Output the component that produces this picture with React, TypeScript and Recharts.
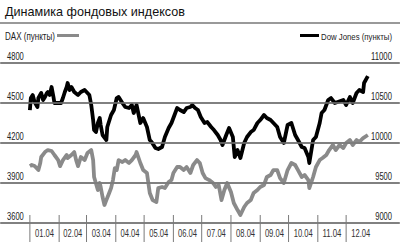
import React from 'react';
import { LineChart, Line, XAxis, YAxis, CartesianGrid } from 'recharts';

// 2004, day of year (0 = 1 Jan)
const monthLabels = ['01.04', '02.04', '03.04', '04.04', '05.04', '06.04', '07.04', '08.04', '09.04', '10.04', '11.04', '12.04'];
const monthStarts = [0, 31, 60, 91, 121, 152, 182, 213, 244, 274, 305, 335];
const yearEnd = 366;

const daxTicks = [3600, 3900, 4200, 4500, 4800];
const dowTicks = [9000, 9500, 10000, 10500, 11000];

const daxDays = [
  0, 2, 5, 9, 11, 12, 16, 19, 23, 26, 30, 32, 35, 39, 40, 44, 47, 49, 51, 54, 58, 61, 65, 67, 68, 72, 74, 75, 77, 79, 81,
  84, 86, 88, 90, 92, 94, 98, 101, 105, 108, 112, 113, 117, 120, 124, 127, 130, 134, 136, 140, 143, 147, 150, 152, 156,
  159, 163, 166, 170, 173, 177, 180, 183, 186, 190, 194, 197, 200, 203, 206, 209, 213, 216, 220, 223, 227, 230, 234, 237,
  241, 244, 248, 251, 255, 258, 262, 265, 269, 273, 277, 281, 284, 288, 291, 295, 296, 300, 303, 307, 310, 314, 317, 321,
  324, 328, 332, 335, 339, 342, 346, 349, 353, 358,
];
const daxValues = [
  4027, 4035, 4027, 3997, 4050, 4095, 4132, 4147, 4140, 4110, 4072, 4027, 4072, 4110, 4087, 4110, 4132, 4072, 4027, 4095,
  4072, 4125, 4147, 4072, 3945, 3847, 3900, 3870, 3795, 3735, 3772, 3825, 3862, 3922, 4012, 3997, 4072, 4057, 4072, 4050,
  4072, 4110, 4132, 4050, 3997, 3975, 3825, 3772, 3757, 3862, 3870, 3862, 3907, 3922, 3975, 4020, 4020, 3997, 4020, 3975,
  4035, 4072, 4050, 3975, 3937, 3922, 3900, 3870, 3885, 3772, 3847, 3900, 3832, 3750, 3697, 3660, 3720, 3750, 3772, 3825,
  3847, 3870, 3885, 3945, 3960, 3997, 3997, 3937, 3900, 3997, 4050, 4035, 3997, 3945, 3960, 3922, 3862, 3945, 4020, 4072,
  4087, 4110, 4147, 4185, 4147, 4185, 4162, 4200, 4222, 4185, 4222, 4207, 4237, 4260,
];

const dowDays = [
  0, 1, 3, 5, 8, 9, 12, 14, 16, 18, 19, 21, 23, 25, 26, 30, 33, 35, 37, 39, 40, 42, 44, 47, 51, 54, 58, 61, 63, 65, 67, 68,
  70, 72, 74, 75, 77, 81, 82, 86, 89, 92, 94, 98, 101, 105, 108, 110, 113, 117, 120, 124, 127, 129, 133, 136, 140, 143, 147,
  150, 154, 156, 159, 163, 166, 170, 172, 175, 178, 181, 185, 188, 192, 195, 199, 202, 204, 208, 211, 215, 217, 220, 223,
  227, 230, 234, 237, 241, 244, 248, 251, 255, 258, 262, 265, 269, 273, 277, 281, 284, 288, 291, 295, 296, 300, 303, 307,
  309, 312, 316, 319, 323, 326, 332, 335, 339, 342, 346, 349, 353, 354, 358,
];
const dowValues = [
  10412, 10562, 10600, 10512, 10450, 10562, 10625, 10537, 10575, 10625, 10637, 10600, 10700, 10575, 10500, 10500, 10500,
  10562, 10637, 10700, 10750, 10662, 10700, 10637, 10600, 10637, 10662, 10625, 10600, 10475, 10287, 10162, 10137, 10250,
  10312, 10225, 10100, 10037, 10200, 10350, 10412, 10562, 10575, 10500, 10450, 10437, 10475, 10375, 10475, 10250, 10312,
  10200, 10037, 10012, 9937, 9925, 9950, 10075, 10187, 10250, 10375, 10437, 10412, 10387, 10437, 10450, 10475, 10437, 10412,
  10325, 10250, 10262, 10200, 10162, 10100, 10037, 9975, 10100, 10187, 10075, 9825, 9912, 9812, 10000, 10075, 10137, 10162,
  10250, 10287, 10350, 10312, 10287, 10250, 10200, 10075, 10000, 10225, 10250, 10100, 10037, 9950, 9937, 9825, 9750, 10037,
  10075, 10250, 10375, 10412, 10537, 10562, 10500, 10512, 10537, 10475, 10575, 10500, 10625, 10662, 10637, 10750, 10837,
];

const daxData = daxDays.map((day, i) => ({ day, dax: daxValues[i] }));
const dowData = dowDays.map((day, i) => ({ day, dow: dowValues[i] }));

const monthMids = monthStarts.map((s, i) => (s + (monthStarts[i + 1] ?? yearEnd)) / 2);
const xTicks = [...monthStarts, ...monthMids].sort((a, b) => a - b);

// the original uses a condensed face; squeeze a regular one to the same widths
const FONT = "'Liberation Sans', Arial, sans-serif";
const GRID = '#7a7a7a';
const W = 400;
const H = 242;

const MonthTick = ({ x, y, payload }: any) => {
  if (monthStarts.includes(payload.value)) {
    return <line x1={x} x2={x} y1={y - 8} y2={y + 19} stroke={GRID} strokeWidth={1} />;
  }
  const i = monthMids.indexOf(payload.value);
  return (
    <text x={x} y={y + 14} textAnchor="middle" fontSize={10} fill="#333" textLength={19} lengthAdjust="spacingAndGlyphs" style={{ fontFamily: FONT }}>
      {monthLabels[i]}
    </text>
  );
};

const LeftTick = ({ x, y, payload }: any) => {
  const s = String(payload.value);
  return (
    <g>
      <rect x={0} y={y - 0.75} width={W} height={1.5} fill={GRID} />
      <text x={x + 6} y={y - 3} textAnchor="start" fontSize={10} fill="#222" textLength={s.length * 4.2} lengthAdjust="spacingAndGlyphs" style={{ fontFamily: FONT }}>
        {s}
      </text>
    </g>
  );
};

const RightTick = ({ x, y, payload }: any) => {
  const s = String(payload.value);
  return (
    <text x={x - 7} y={y - 3} textAnchor="end" fontSize={10} fill="#222" textLength={s.length * 4.2} lengthAdjust="spacingAndGlyphs" style={{ fontFamily: FONT }}>
      {s}
    </text>
  );
};

export default function App() {
  return (
    <div style={{ position: 'absolute', left: 0, top: 0, width: W, height: H, background: '#fff' }}>
      <LineChart width={W} height={H} margin={{ top: 63, right: 0, bottom: 0, left: 0 }}>
        <CartesianGrid vertical={false} stroke={GRID} strokeWidth={1.5} yAxisId="dax" />
        <XAxis
          dataKey="day"
          type="number"
          domain={[-30.6, 391]}
          allowDataOverflow
          ticks={xTicks}
          interval={0}
          height={19}
          axisLine={false}
          tickLine={false}
          tickSize={0}
          tickMargin={0}
          tick={<MonthTick />}
        />
        <YAxis
          yAxisId="dax"
          domain={[3600, 4800]}
          ticks={daxTicks}
          interval={0}
          width={1}
          axisLine={false}
          tickLine={false}
          tickSize={0}
          tickMargin={0}
          tick={<LeftTick />}
        />
        <YAxis
          yAxisId="dow"
          orientation="right"
          domain={[9000, 11000]}
          ticks={dowTicks}
          interval={0}
          width={1}
          axisLine={false}
          tickLine={false}
          tickSize={0}
          tickMargin={0}
          tick={<RightTick />}
        />
        <Line
          yAxisId="dax"
          data={daxData}
          dataKey="dax"
          stroke="#8a8a8a"
          strokeWidth={3.8}
          dot={false}
          strokeLinejoin="round"
          isAnimationActive={false}
        />
        <Line
          yAxisId="dow"
          data={dowData}
          dataKey="dow"
          stroke="#000"
          strokeWidth={3.8}
          dot={false}
          strokeLinejoin="round"
          isAnimationActive={false}
        />
      </LineChart>
      <svg width={W} height={60} style={{ position: 'absolute', left: 0, top: 0, pointerEvents: 'none' }}>
        <text x={5} y={16} fontSize={13.5} fill="#111" textLength={180} lengthAdjust="spacingAndGlyphs" style={{ fontFamily: FONT }}>
          Динамика фондовых индексов
        </text>
        <line x1={0} x2={W} y1={23} y2={23} stroke="#777" strokeWidth={1.5} />
        <text x={5} y={40} fontSize={10} fill="#222" textLength={50} lengthAdjust="spacingAndGlyphs" style={{ fontFamily: FONT }}>
          DAX (пункты)
        </text>
        <line x1={57} x2={79} y1={35.5} y2={35.5} stroke="#8a8a8a" strokeWidth={3} />
        <line x1={300} x2={319} y1={35.5} y2={35.5} stroke="#000" strokeWidth={3} />
        <text x={321} y={40} fontSize={9.5} fill="#222" textLength={71} lengthAdjust="spacingAndGlyphs" style={{ fontFamily: FONT }}>
          Dow Jones (пункты)
        </text>
      </svg>
    </div>
  );
}
